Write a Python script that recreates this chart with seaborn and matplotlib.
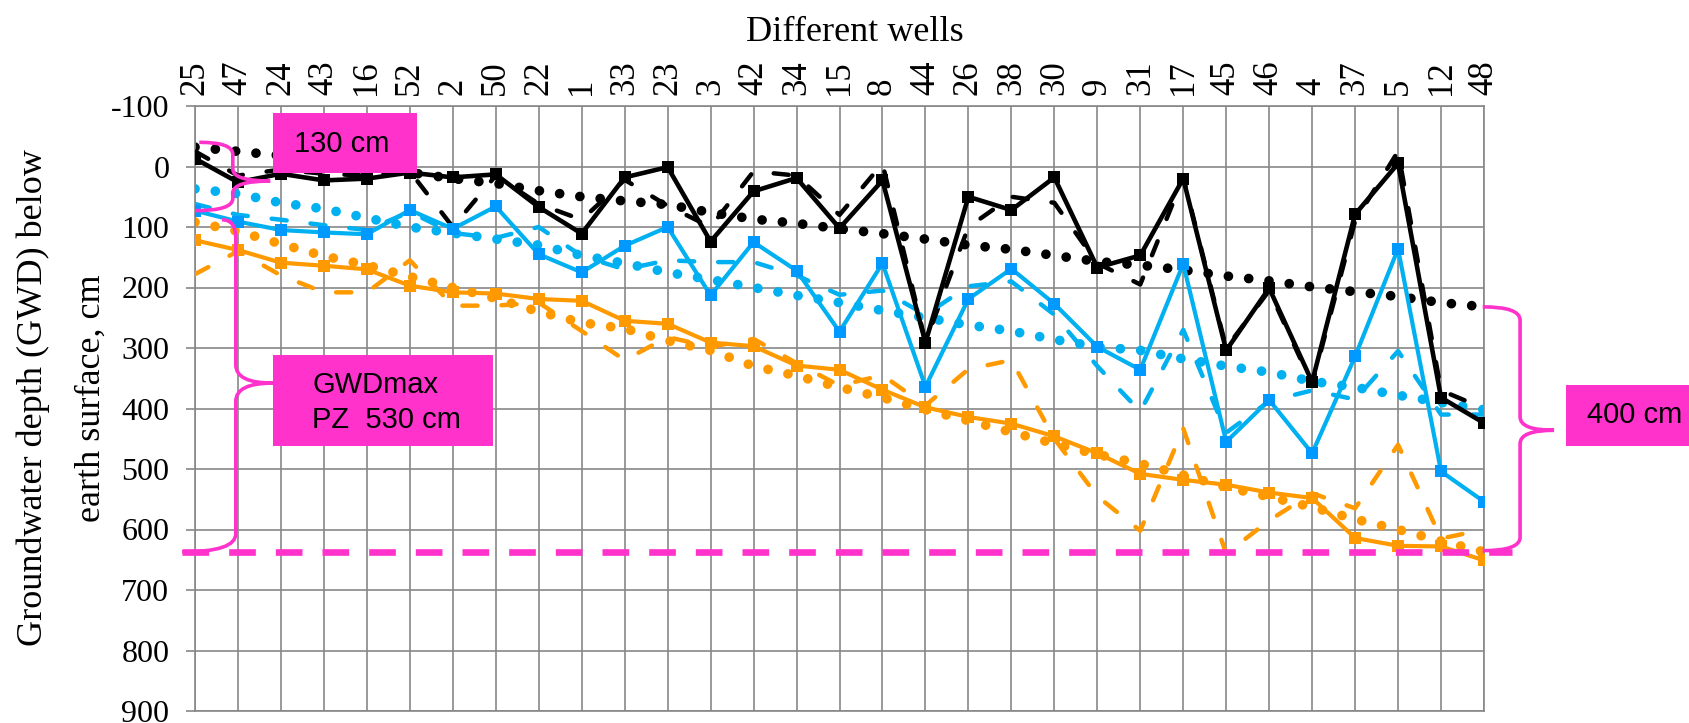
import matplotlib
matplotlib.use("Agg")
import numpy as np
import pandas as pd
import matplotlib.pyplot as plt
import seaborn as sns
from matplotlib.path import Path
from matplotlib.patches import PathPatch, Rectangle

# ---------------- data ----------------
wells = ["25", "47", "24", "43", "16", "52", "2", "50", "22", "1", "33", "23", "3", "42", "34",
         "15", "8", "44", "26", "38", "30", "9", "31", "17", "45", "46", "4", "37", "5", "12", "48"]

black_solid = [-13, 26, 12, 23, 20, 10, 18, 13, 67, 111, 18, 1, 124, 41, 19, 102, 23, 291, 50, 72,
               18, 167, 147, 20, 304, 201, 356, 79, -5, 382, 424]
black_dashed = [-25, 15, 5, 12, 15, 8, 100, 15, 62, 88, 22, 65, 100, 8, 15, 80, -5, 290, 100, 50,
                60, 160, 195, 18, 300, 205, 360, 90, -25, 370, 400]
black_dotted = [-32, -25, -18, -9, 0, 10, 20, 28, 40, 50, 57, 63, 76, 87, 94, 103, 111, 120, 130, 137,
                147, 157, 163, 171, 181, 189, 199, 207, 215, 225, 232]

blue_solid = [73, 91, 105, 109, 112, 72, 103, 66, 145, 175, 131, 100, 213, 125, 172, 273, 160, 364, 219,
              169, 227, 298, 336, 161, 455, 386, 474, 314, 136, 504, 554]
blue_dashed = [62, 80, 88, 97, 105, 75, 110, 118, 100, 148, 170, 155, 158, 158, 180, 212, 205, 245, 198,
               190, 245, 330, 405, 270, 440, 388, 370, 385, 305, 410, 410]
blue_dotted = [37, 45, 60, 70, 85, 100, 110, 120, 130, 147, 160, 175, 187, 200, 213, 225, 238, 250, 262,
               272, 286, 298, 304, 318, 330, 340, 355, 365, 378, 390, 402]

orange_solid = [122, 138, 159, 164, 170, 197, 208, 210, 219, 222, 255, 260, 291, 297, 329, 336, 369, 398,
                414, 425, 446, 474, 508, 518, 526, 539, 548, 614, 627, 628, 651]
orange_dashed = [178, 140, 180, 208, 208, 155, 230, 230, 225, 272, 320, 282, 298, 285, 325, 362, 345, 395,
                 335, 320, 450, 545, 602, 433, 640, 585, 540, 565, 460, 615, 600]
orange_dotted = [92, 107, 128, 148, 163, 182, 200, 218, 240, 258, 268, 288, 304, 330, 346, 365, 382, 402,
                 420, 439, 458, 476, 491, 510, 530, 546, 563, 583, 600, 619, 637]

y_ticks = list(range(-100, 1000, 100))
GWD_LIMIT = 637          # depth of the dashed limit line, cm
span_top = (-40, 85)     # "130 cm" bracket
span_max = (85, 637)     # "GWDmax PZ 530 cm" bracket
span_right = (232, 637)  # "400 cm" bracket

# ---------------- style ----------------
sns.set_theme(style="white")
plt.rcParams['font.family'] = ['Liberation Serif', 'DejaVu Serif']
plt.rcParams['text.color'] = 'black'

W, H = 1689, 723
fig = plt.figure(figsize=(W / 100, H / 100), dpi=100, facecolor='white')
L, R, T, B = 195, 1484, 106, 711
ax = fig.add_axes([L / W, 1 - B / H, (R - L) / W, (B - T) / H])

pos = np.arange(len(wells))

BLACK = "#000000"
BLUE = "#00B0F0"
BLUE_M = "#0099FF"
ORANGE = "#FF9900"
MAGENTA = "#FF33CC"
GRID = "#878787"

dash_style = (0, (3.4, 5.4))
dot_style = (0, (0.001, 2.1))

series = [
    (black_dotted, BLACK, None, 'dot'),
    (black_dashed, BLACK, None, 'dash'),
    (black_solid, BLACK, BLACK, 'solid'),
    (blue_dotted, BLUE, None, 'dot'),
    (blue_dashed, BLUE, None, 'dash'),
    (blue_solid, BLUE, BLUE_M, 'solid'),
    (orange_dotted, ORANGE, None, 'dot'),
    (orange_dashed, ORANGE, None, 'dash'),
    (orange_solid, ORANGE, ORANGE, 'solid'),
]

z = 2
for vals, col, mcol, kind in series:
    df = pd.DataFrame({"pos": pos, "depth": vals})
    n_before = len(ax.lines)
    if kind == 'solid':
        sns.lineplot(data=df, x="pos", y="depth", ax=ax, color=col, marker='s',
                     errorbar=None)
    else:
        sns.lineplot(data=df, x="pos", y="depth", ax=ax, color=col, errorbar=None)
    line = ax.lines[n_before]
    line.set_color(col)
    if kind == 'solid':
        line.set_linewidth(3.3 if col == BLACK else 3.0)
        line.set_linestyle('-')
        line.set_marker('s')
        line.set_markersize(8)
        line.set_markerfacecolor(mcol)
        line.set_markeredgewidth(0)
        line.set_zorder(z + 2)
    elif kind == 'dash':
        line.set_linewidth(3.2)
        line.set_linestyle(dash_style)
        line.set_dash_capstyle('round')
        line.set_marker('')
        line.set_zorder(z + 1)
    else:
        line.set_linewidth(7.0)
        line.set_linestyle(dot_style)
        line.set_dash_capstyle('round')
        line.set_marker('')
        line.set_zorder(z)
    z += 0.01

# ---------------- axes ----------------
ax.set_xticks(pos)
ax.set_xticklabels(wells, rotation=90, fontsize=25)
ax.xaxis.tick_top()
ax.tick_params(axis='x', top=True, bottom=False, length=0, pad=8, labeltop=True,
               labelbottom=False, labelcolor='black')
ax.set_yticks(y_ticks)
ax.set_yticklabels([str(v) for v in y_ticks], fontsize=23)
ax.tick_params(axis='y', left=True, length=6.5, width=1.2, color=GRID, pad=12, labelcolor='black')
ax.grid(True, color=GRID, linewidth=1.2)
ax.set_axisbelow(True)
for s in ax.spines.values():
    s.set_color(GRID)
    s.set_linewidth(1.2)
ax.set_xlabel('')
ax.set_ylabel('')

# ---------------- annotations ----------------
ax.hlines(GWD_LIMIT, -0.3, 30.65, colors=MAGENTA, linewidth=4.8, linestyles=(0, (4, 3)),
          clip_on=False, zorder=6)


def brace(xe_top, xe_bot, xs, xt, yt, ym, yb, r):
    verts = [(xe_top, yt), (xs, yt), (xs, yt + r),
             (xs, ym - r), (xs, ym), (xt, ym),
             (xs, ym), (xs, ym + r),
             (xs, yb - r), (xs, yb), (xe_bot, yb)]
    codes = [Path.MOVETO, Path.CURVE3, Path.CURVE3,
             Path.LINETO, Path.CURVE3, Path.CURVE3,
             Path.CURVE3, Path.CURVE3,
             Path.LINETO, Path.CURVE3, Path.CURVE3]
    ax.add_patch(PathPatch(Path(verts, codes), fill=False, edgecolor=MAGENTA, linewidth=2.6,
                           clip_on=False, zorder=7))


brace(0.1, 0.0, 0.88, 1.75, span_top[0], 24, span_top[1] - 12, 20)
brace(0.63, -0.3, 0.95, 1.81, span_max[0] + 3, 358, span_max[1], 30)
brace(29.97, 29.97, 30.84, 31.63, span_right[0], 436, span_right[1] - 2, 22)

ax.set_xlim(0, len(wells) - 1)
ax.set_ylim(900, -100)


def box(x0, y0, x1, y1):
    fig.add_artist(Rectangle((x0 / W, 1 - y1 / H), (x1 - x0) / W, (y1 - y0) / H,
                             transform=fig.transFigure, facecolor=MAGENTA, edgecolor='none',
                             zorder=8))


def label(x, y, s, ha='left'):
    fig.text(x / W, 1 - y / H, s, ha=ha, va='baseline', fontsize=21,
             family=['Liberation Sans', 'DejaVu Sans'], color='black', zorder=9)


box(273, 113, 417, 173)
label(294, 152, "130 cm")
box(273, 355, 493, 446)
label(312, 393, "GWDmax")
label(312, 428, "PZ  530 cm")
box(1566, 385, 1689, 446)
label(1587, 423, "400 cm")

# ---------------- titles ----------------
fig.text(855 / W, 1 - 41 / H, "Different wells", ha='center', va='baseline', fontsize=26)
fig.text(42 / W, 1 - 398 / H, "Groundwater depth (GWD) below", rotation=90,
         rotation_mode='anchor', ha='center', va='baseline', fontsize=26)
fig.text(100 / W, 1 - 398 / H, "earth surface, cm", rotation=90,
         rotation_mode='anchor', ha='center', va='baseline', fontsize=26)

fig.savefig("out.png", dpi=100, facecolor='white')
